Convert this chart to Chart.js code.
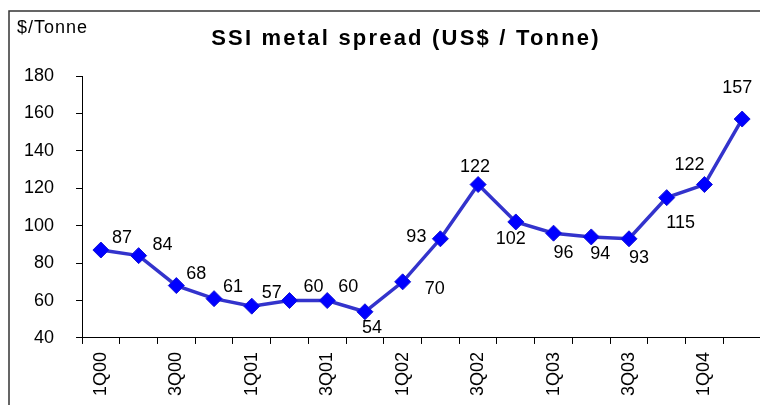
<!DOCTYPE html>
<html>
<head>
<meta charset="utf-8">
<script src="https://cdn.jsdelivr.net/npm/chart.js@4.4.0/dist/chart.umd.min.js"></script>
<style>
  html, body { margin: 0; padding: 0; background: #fff; overflow: hidden; }
  #wrap { width: 772px; height: 405px; position: relative; }
</style>
</head>
<body>
<div id="wrap"><canvas id="chart-spread"></canvas></div>
<script>
const quarters = ['1Q00', '2Q00', '3Q00', '4Q00', '1Q01', '2Q01', '3Q01', '4Q01',
  '1Q02', '2Q02', '3Q02', '4Q02', '1Q03', '2Q03', '3Q03', '4Q03', '1Q04', '2Q04'];
const spread = [87, 84, 68, 61, 57, 60, 60, 54, 70, 93, 122, 102, 96, 94, 93, 115, 122, 157];
const yTicks = [40, 60, 80, 100, 120, 140, 160, 180];

// where each value label sits relative to its point (px)
const labelOffsets = [[21, -12], [24, -11], [20, -12], [19, -12], [20, -13], [24, -14], [21, -14],
  [7, 16], [32, 7], [-24, -2], [-3, -17], [-5, 17], [10, 20], [9, 17], [10, 19], [14, 25], [-15, -19], [-5, -31]];

const fontFamily = '"Liberation Sans", Arial, sans-serif';

const chartSpread = document.getElementById('chart-spread');

// frame, title, unit text and point labels
const decorPlugin = {
  id: 'decor',
  beforeDraw(chart) {
    const ctx = chart.ctx;
    ctx.save();
    ctx.fillStyle = '#fff';
    ctx.fillRect(0, 0, chart.width, chart.height);
    ctx.strokeStyle = '#333';
    ctx.lineWidth = 1.5;
    ctx.beginPath();
    ctx.moveTo(9, chart.height + 5);
    ctx.lineTo(9, 11);
    ctx.lineTo(chart.width + 5, 11);
    ctx.stroke();
    ctx.restore();
  },
  afterDraw(chart) {
    const ctx = chart.ctx;
    ctx.save();
    ctx.fillStyle = '#000';
    ctx.textBaseline = 'middle';

    ctx.font = 'bold 22px ' + fontFamily;
    ctx.letterSpacing = '2.2px';
    ctx.textAlign = 'center';
    ctx.fillText('SSI metal spread (US$ / Tonne)', 406, 39);

    ctx.font = '18px ' + fontFamily;
    ctx.letterSpacing = '1px';
    ctx.textAlign = 'left';
    ctx.fillText('$/Tonne', 17, 28);

    ctx.letterSpacing = '0px';
    ctx.textAlign = 'center';
    const meta = chart.getDatasetMeta(0);
    meta.data.forEach((pt, i) => {
      const [dx, dy] = labelOffsets[i];
      ctx.fillText(String(spread[i]), pt.x + dx, pt.y + dy);
    });
    ctx.restore();
  }
};

new Chart(chartSpread, {
  type: 'line',
  data: {
    labels: quarters,
    datasets: [{
      data: spread,
      borderColor: '#3333CC',
      borderWidth: 3.5,
      backgroundColor: '#0000FF',
      pointStyle: 'rectRot',
      pointRadius: 8,
      pointHoverRadius: 8,
      pointBorderColor: '#1515D8',
      pointBorderWidth: 1,
      tension: 0
    }]
  },
  options: {
    responsive: true,
    maintainAspectRatio: false,
    animation: false,
    events: [],
    layout: {
      padding: { top: 76, left: 2, right: 0, bottom: 1 }
    },
    plugins: {
      legend: { display: false },
      title: { display: false },
      tooltip: { enabled: false }
    },
    scales: {
      y: {
        min: 40,
        max: 180,
        afterBuildTicks: (axis) => {
          axis.ticks = yTicks.map(v => ({ value: v }));
        },
        border: { color: '#000', width: 1 },
        grid: { drawOnChartArea: false, color: '#000', tickLength: 6 },
        ticks: {
          color: '#000',
          padding: 22,
          font: { family: fontFamily, size: 18 }
        }
      },
      x: {
        offset: true,
        border: { color: '#000', width: 1 },
        grid: { offset: true, drawOnChartArea: false, color: '#000', tickLength: 6 },
        ticks: {
          color: '#000',
          autoSkip: false,
          maxRotation: 90,
          minRotation: 90,
          padding: 8,
          font: { family: fontFamily, size: 18 },
          callback: function(value, index) {
            return index % 2 === 0 ? quarters[index] : '';
          }
        }
      }
    }
  },
  plugins: [decorPlugin]
});
</script>
</body>
</html>
